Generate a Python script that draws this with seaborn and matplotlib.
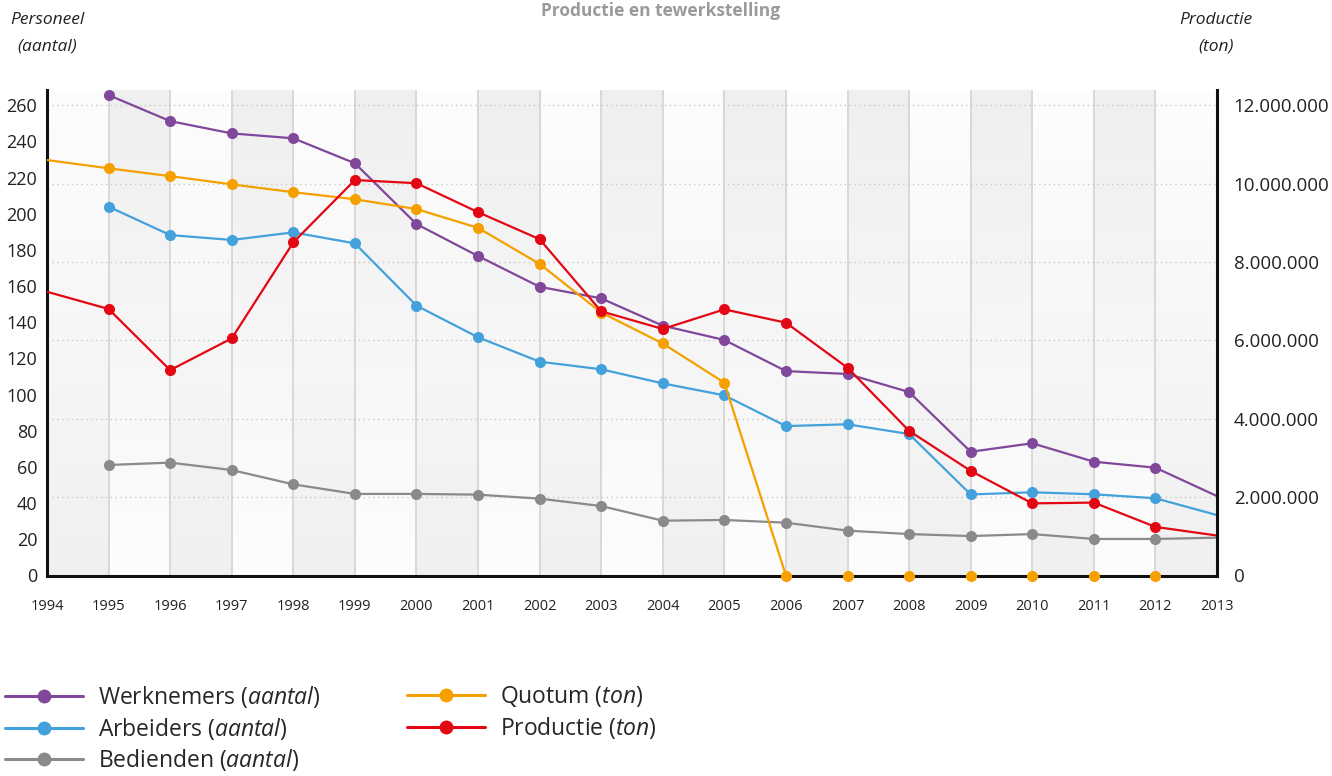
import numpy as np
import matplotlib
matplotlib.use("Agg")
import matplotlib.pyplot as plt
import seaborn as sns

#================================
# DATA
#================================
years = list(range(1994, 2014))
nan = np.nan

# personeel (aantal), linker as
werknemers = [nan, 265.6, 251.2, 244.4, 241.7, 227.9, 194.3, 176.6, 159.6, 153.2,
              138.1, 130.2, 113.0, 111.4, 101.4, 68.4, 73.1, 62.9, 59.6, 43.9]
arbeiders = [nan, 203.9, 188.2, 185.5, 189.7, 183.6, 149.2, 131.7, 118.2, 114.0,
             106.2, 99.6, 82.6, 83.6, 78.2, 44.8, 46.0, 44.9, 42.7, 33.4]
bedienden = [nan, 61.1, 62.4, 58.3, 50.4, 45.1, 45.1, 44.7, 42.5, 38.4,
             30.3, 30.7, 29.2, 24.8, 22.9, 21.8, 22.9, 20.2, 20.2, 20.9]

# ton, rechter as
quotum = [10.60e6, 10.39e6, 10.19e6, 9.98e6, 9.78e6, 9.60e6, 9.35e6, 8.87e6, 7.95e6, 6.71e6,
          5.92e6, 4.92e6, 0, 0, 0, 0, 0, 0, 0, 0]
productie = [7.24e6, 6.80e6, 5.24e6, 6.05e6, 8.50e6, 10.09e6, 10.01e6, 9.27e6, 8.58e6, 6.74e6,
             6.29e6, 6.79e6, 6.45e6, 5.30e6, 3.69e6, 2.67e6, 1.84e6, 1.86e6, 1.24e6, 1.02e6]

left_ticks = list(range(0, 261, 20))
right_ticks = [0, 2e6, 4e6, 6e6, 8e6, 10e6, 12e6]

labels_left = ["Werknemers ($\\mathit{aantal}$)", "Arbeiders ($\\mathit{aantal}$)",
               "Bedienden ($\\mathit{aantal}$)"]
labels_right = ["Quotum ($\\mathit{ton}$)", "Productie ($\\mathit{ton}$)"]

purple = "#80479b"
blue = "#43a1db"
grey = "#8a8a8a"
orange = "#f6a000"
red = "#e30613"

#================================
# STYLE
#================================
sns.set_style("white")
plt.rcParams["font.family"] = ["Open Sans", "DejaVu Sans"]
plt.rcParams["mathtext.fontset"] = "custom"
plt.rcParams["mathtext.rm"] = "Open Sans"
plt.rcParams["mathtext.it"] = "Open Sans:italic"

fig = plt.figure(figsize=(13.32, 7.76), dpi=100)
ax = fig.add_axes([47 / 1332, 1 - 575.5 / 776, 1170 / 1332, 485.5 / 776])
ax2 = ax.twinx()

ytop = 268.4
ax.set_xlim(1994, 2013)
ax.set_ylim(0, ytop)
ax2.set_ylim(0, ytop * 12e6 / 260)
ax.set_facecolor("none")

# achtergrond: afwisselende kolommen met verloop
rows = 200
t = np.linspace(0, 1, rows)[:, None]
cols = np.arange(19)[None, :]
shade_top = np.where(cols % 2 == 1, 239, 253)
shade_bot = np.where(cols % 2 == 1, 253, 240)
bg = (shade_top * (1 - t) + shade_bot * t) / 255.0
bg = np.dstack([bg, bg, bg])
ax.imshow(bg, extent=(1994, 2013, 0, ytop), aspect="auto", interpolation="nearest", zorder=0)

for yr in years[1:-1]:
    ax.axvline(yr, color="#d6d6d6", lw=1.3, zorder=0.5)
for rt in right_ticks[1:]:
    ax.axhline(rt * 260 / 12e6, color="#c8c8c8", lw=1, ls=(0, (1, 2.5)), zorder=0.6)

#================================
# LIJNEN
#================================
lw = 1.6
ms = 64
for vals, c in [(bedienden, grey), (arbeiders, blue), (werknemers, purple)]:
    sns.lineplot(x=years, y=vals, ax=ax, color=c, lw=lw, zorder=2)
    sns.scatterplot(x=years[1:-1], y=vals[1:-1], ax=ax, color=c, s=ms, linewidth=0, zorder=3)

# quotum-lijn stopt waar ze op de as valt (verder verborgen achter de as)
sns.lineplot(x=years[:13], y=quotum[:13], ax=ax2, color=orange, lw=lw, zorder=2)
sns.scatterplot(x=years[1:-1], y=quotum[1:-1], ax=ax2, color=orange, s=ms, linewidth=0,
                zorder=4, clip_on=False)
sns.lineplot(x=years, y=productie, ax=ax2, color=red, lw=lw, zorder=2)
sns.scatterplot(x=years[1:-1], y=productie[1:-1], ax=ax2, color=red, s=ms, linewidth=0,
                zorder=4)

#================================
# ASSEN
#================================
ax.set_xticks(years)
ax.set_xticklabels([str(y) for y in years], fontsize=10.5, color="#222222")
ax.set_yticks(left_ticks)
ax.set_yticklabels([str(v) for v in left_ticks], fontsize=13, color="#222222")
ax2.set_yticks(right_ticks)
ax2.set_yticklabels([f"{v:,.0f}".replace(",", ".") for v in right_ticks], fontsize=13.5,
                    color="#222222")
ax.tick_params(axis="x", length=0, pad=17)
ax.tick_params(axis="y", length=0, pad=7)
ax2.tick_params(axis="y", length=0, pad=12)
ax.set_xlabel("")
ax.set_ylabel("")
ax2.set_ylabel("")

for a in (ax, ax2):
    a.spines["top"].set_visible(False)
    for s in ("left", "right", "bottom"):
        a.spines[s].set_color("#111111")
        a.spines[s].set_linewidth(2.2)
ax.spines["right"].set_visible(False)
ax.spines["bottom"].set_visible(False)
ax2.spines["left"].set_visible(False)
ax2.spines["bottom"].set_zorder(3)

#================================
# TEKST
#================================
fig.text(661 / 1332, 1 - 16 / 776, "Productie en tewerkstelling", ha="center", va="baseline",
         fontsize=12.5, fontweight="bold", color="#9a9a9a")
fig.text(47 / 1332, 1 - 12 / 776, "Personeel\n(aantal)", ha="center", va="top",
         fontsize=12.5, style="italic", color="#222222", linespacing=1.85)
fig.text(1216 / 1332, 1 - 12 / 776, "Productie\n(ton)", ha="center", va="top",
         fontsize=12.5, style="italic", color="#222222", linespacing=1.85)

#================================
# LEGENDE
#================================
def handle(c):
    return plt.Line2D([], [], color=c, lw=2.2, marker="o", markersize=10,
                      markeredgewidth=0)

leg_kw = dict(frameon=False, fontsize=16.5, handlelength=3.4, handletextpad=0.65,
              labelspacing=0.25, borderpad=0, borderaxespad=0, loc="upper left")
fig.legend([handle(purple), handle(blue), handle(grey)], labels_left,
           bbox_to_anchor=(5 / 1332, 1 - 684 / 776), **leg_kw)
fig.legend([handle(orange), handle(red)], labels_right,
           bbox_to_anchor=(407 / 1332, 1 - 684 / 776), **leg_kw)

fig.savefig("out.png", dpi=100)
